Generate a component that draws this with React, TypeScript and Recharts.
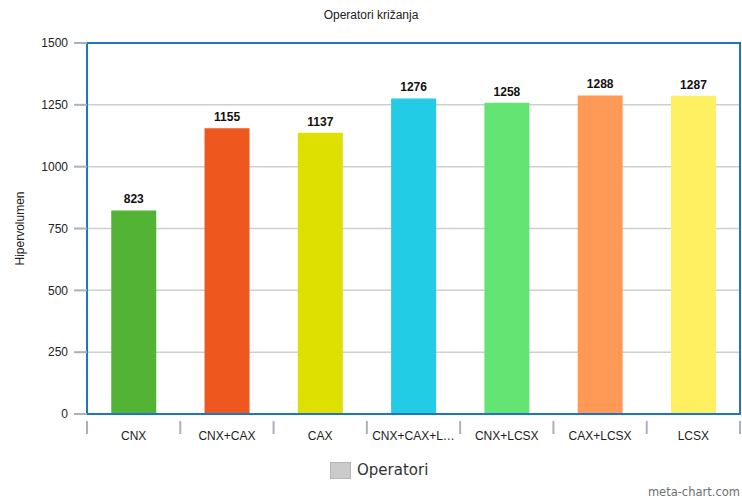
import React from "react";
import { BarChart, Bar, XAxis, YAxis, CartesianGrid, Cell, LabelList, ReferenceArea } from "recharts";

const operators = ["CNX", "CNX+CAX", "CAX", "CNX+CAX+LCSX", "CNX+LCSX", "CAX+LCSX", "LCSX"];
const hypervolume = [823, 1155, 1137, 1276, 1258, 1288, 1287];
const barColors = ["#52b334", "#ee581e", "#dde000", "#22cce4", "#64e473", "#ff9955", "#fff061"];
const yTicks = [0, 250, 500, 750, 1000, 1250, 1500];

const W = 742;
const H = 501;
const M = { top: 43, right: 2, bottom: 57, left: 0 };
const Y_AXIS_W = 87;
const PLOT_W = W - M.left - M.right - Y_AXIS_W;
const BAND = PLOT_W / operators.length;

const FONT = '"Liberation Sans", Arial, sans-serif';
const FRAME = "#1e76c2";
const TICK_GRAY = "#a9b1bb";

const data = operators.map((name, i) => ({ name, value: hypervolume[i] }));

const shorten = (s: string) => (s.length > 11 ? s.slice(0, 9) + "…" : s);

// category labels centred, tick marks on the band boundaries
function CategoryTick(props: any) {
  const { x, y, payload, index } = props;
  const left = x - BAND / 2;
  return (
    <g>
      <line x1={left} x2={left} y1={y - 1} y2={y + 12} stroke={TICK_GRAY} strokeWidth={2} />
      {index === operators.length - 1 && (
        <line x1={x + BAND / 2} x2={x + BAND / 2} y1={y - 1} y2={y + 12} stroke={TICK_GRAY} strokeWidth={2} />
      )}
      <text x={x} y={y + 18} textAnchor="middle" fontSize={12} fontFamily={FONT} fill="#222">
        {shorten(payload.value)}
      </text>
    </g>
  );
}

export default function App() {
  return (
    <div style={{ position: "absolute", left: 0, top: 0, width: W, height: H, background: "#fff" }}>
      <div style={{ position: "absolute", top: 8, width: W, textAlign: "center", fontFamily: FONT, fontSize: 12, color: "#222" }}>
        Operatori križanja
      </div>
      <BarChart width={W} height={H} data={data} margin={M} barCategoryGap="26%">
        <CartesianGrid vertical={false} stroke="#cfcfcf" strokeWidth={1.5} />
        <XAxis
          dataKey="name"
          interval={0}
          height={30}
          tickLine={false}
          axisLine={{ stroke: FRAME, strokeWidth: 2 }}
          tick={<CategoryTick />}
        />
        <YAxis
          domain={[0, 1500]}
          ticks={yTicks}
          width={Y_AXIS_W}
          tickSize={13}
          tickMargin={6}
          tickLine={{ stroke: TICK_GRAY, strokeWidth: 2 }}
          axisLine={{ stroke: FRAME, strokeWidth: 2 }}
          tick={{ fontSize: 12, fontFamily: FONT, fill: "#222" }}
          label={{ value: "Hipervolumen", angle: -90, position: "insideLeft", offset: 20, style: { textAnchor: "middle", fontSize: 12, fontFamily: FONT, fill: "#222" } }}
        />
        <Bar dataKey="value" isAnimationActive={false}>
          {data.map((d, i) => (
            <Cell key={d.name} fill={barColors[i]} />
          ))}
          <LabelList dataKey="value" position="top" offset={7} style={{ fontSize: 12, fontWeight: "bold", fontFamily: FONT, fill: "#111" }} />
        </Bar>
        {/* blue frame around the plot area */}
        <ReferenceArea y1={0} y2={1500} fill="none" fillOpacity={0} stroke={FRAME} strokeWidth={2} ifOverflow="visible" />
      </BarChart>
      <div style={{ position: "absolute", left: 330, top: 461, display: "flex", alignItems: "center", fontFamily: '"DejaVu Sans", sans-serif', fontSize: 15, color: "#333" }}>
        <span style={{ display: "inline-block", width: 19, height: 15, background: "#cbcbcb", border: "1px solid #b5b5b5", marginRight: 6 }} />
        Operatori
      </div>
      <div style={{ position: "absolute", right: 2, top: 485, fontFamily: '"DejaVu Sans", sans-serif', fontSize: 11.5, color: "#6f6f6f" }}>
        meta-chart.com
      </div>
    </div>
  );
}
